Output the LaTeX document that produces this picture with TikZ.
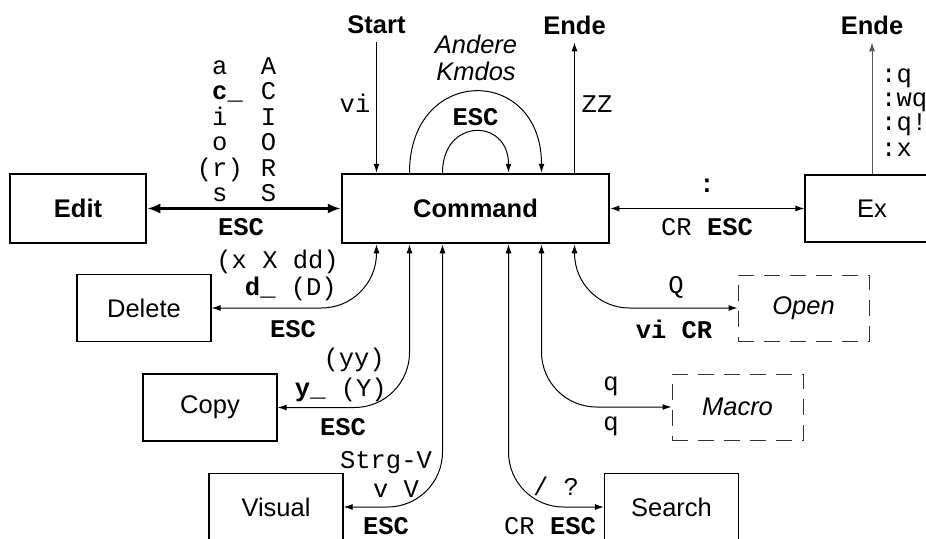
\documentclass[tikz,border=0pt]{standalone}
\usepackage{fontspec}
\setmainfont{Liberation Sans}
\newfontfamily\keyfont{Liberation Mono}
\usetikzlibrary{arrows.meta}

\begin{document}
\begin{tikzpicture}[x=1pt,y=-1pt,
    mode/.style={draw,line width=1.2pt,minimum width=134pt,minimum height=67pt,inner sep=0pt,font=\fontsize{25.5}{27}\selectfont},
    bigmode/.style={mode,line width=2.5pt,font=\fontsize{25.5}{27}\selectfont\bfseries},
    dmode/.style={mode,line width=1pt,draw=black!80,dash pattern=on 16pt off 10pt,font=\fontsize{25.5}{27}\selectfont\itshape},
    title/.style={inner sep=0pt,outer sep=8pt,font=\fontsize{25.5}{27}\selectfont\bfseries},
    key/.style={inner sep=0pt,anchor=base,font=\fontsize{25.5}{25.5}\selectfont\keyfont},
    keyb/.style={key,font=\fontsize{25.5}{25.5}\selectfont\keyfont\bfseries},
    arr/.style={line width=1pt,-{Latex[length=9pt,width=6pt]}},
    twoway/.style={line width=1pt,{Latex[length=9pt,width=6pt]}-{Latex[length=9pt,width=6pt]}},
    fat/.style={line width=2.5pt,{Latex[length=13pt,width=10pt]}-{Latex[length=13pt,width=10pt]}},
    curved/.style={twoway,rounded corners=55pt}]
    \useasboundingbox (0,0) rectangle (926,538);
    \clip (0,0) rectangle (926,538);

    % Modes
    \node[bigmode,minimum width=267pt,minimum height=69pt] (cmd) at (475.5,208.5) {Command};
    \node[bigmode,minimum width=136pt,minimum height=69pt] (edit) at (78,208.5) {Edit};
    \node[mode] (ex) at (872,208.5) {Ex};
    \node[mode] (del) at (144,308) {Delete};
    \node[mode] (copy) at (210,407.5) {Copy};
    \node[mode] (vis) at (276,507) {Visual};
    \node[mode] (search) at (671.5,507) {Search};
    \node[dmode,minimum width=131pt,minimum height=66pt] (open) at (803.5,308) {Open};
    \node[dmode,minimum width=131pt,minimum height=66pt] (macro) at (737.5,407) {Macro};

    % Start / Ende
    \node[title] (start) at (376.5,25) {Start};
    \node[title] (ende) at (574.5,25) {Ende};
    \node[title] (exende) at (872,25) {Ende};
    \draw[arr] (start.south) -- (start.south |- cmd.north);
    \draw[arr] (ende.south |- cmd.north) -- (ende.south);
    \draw[arr,black!65] (ex.north) -- (exende.south);
    \node[key] (vi) at (355,112) {vi};
    \node[key] (zz) at (597,112) {ZZ};

    % Other commands
    \draw[arr] ([xshift=-66pt]cmd.north) .. controls +(0,-108) and +(0,-108) .. ([xshift=66pt]cmd.north);
    \draw[arr] ([xshift=-33pt]cmd.north) .. controls +(0,-55) and +(0,-55) .. ([xshift=33pt]cmd.north);
    \node[inner sep=0pt,align=center,font=\fontsize{25.5}{27}\selectfont\itshape] (other) at (476,58) {Andere\\Kmdos};
    \node[keyb] (loopesc) at (475.5,125) {ESC};

    % Edit
    \draw[fat] (edit.east) -- (cmd.west);
    \node[key,anchor=base west,align=left] (insl) at (212,201.5) {a\\\textbf{c}\_\\i\\o\\\llap{(}r)\\s};
    \node[key,align=center] (insu) at (268.5,201.5) {A\\C\\I\\O\\R\\S};
    \node[keyb] (editesc) at (241,235) {ESC};

    % Ex
    \draw[twoway] (cmd.east) -- (ex.west);
    \node[keyb] (colon) at (707,192) {:};
    \node[key] (excr) at (707,235) {CR \textbf{ESC}};
    \node[key,anchor=base west] (q1) at (881,82) {:q};
    \node[key,anchor=base west] (q2) at (881,106) {:wq};
    \node[key,anchor=base west] (q3) at (881,130) {:q!};
    \node[key,anchor=base west] (q4) at (881,156) {:x};

    % Delete, Copy, Visual
    \draw[curved] ([xshift=-99pt]cmd.south) |- (del.east);
    \node[key,anchor=base east] (dl1) at (339,268) {(x X dd)};
    \node[key,anchor=base east] (dl2) at (337,295) {\textbf{d}\_ (D)};
    \node[keyb] (dlesc) at (293,337) {ESC};
    \draw[curved] ([xshift=-66pt]cmd.south) |- (copy.east);
    \node[key,anchor=base east] (cp1) at (385,366) {(yy)};
    \node[key,anchor=base east] (cp2) at (387,396) {\textbf{y}\_ (Y)};
    \node[keyb] (cpesc) at (343,435) {ESC};
    \draw[curved] ([xshift=-33pt]cmd.south) |- (vis.east);
    \node[key] (vs1) at (386,468) {Strg-V};
    \node[key] (vs2) at (396,497) {v V};
    \node[keyb] (vsesc) at (386,534) {ESC};

    % Search, Macro, Open
    \draw[curved] ([xshift=33pt]cmd.south) |- (search.west);
    \node[key] (sr1) at (556,495) {/ ?};
    \node[key] (sr2) at (550,534) {CR \textbf{ESC}};
    \draw[curved] ([xshift=66pt]cmd.south) |- (macro.west);
    \node[key] (mc1) at (611,390) {q};
    \node[key] (mc2) at (611,430) {q};
    \draw[curved] ([xshift=99pt]cmd.south) |- (open.west);
    \node[key] (op1) at (676,293) {Q};
    \node[keyb] (op2) at (674,338) {vi CR};
\end{tikzpicture}
\end{document}
